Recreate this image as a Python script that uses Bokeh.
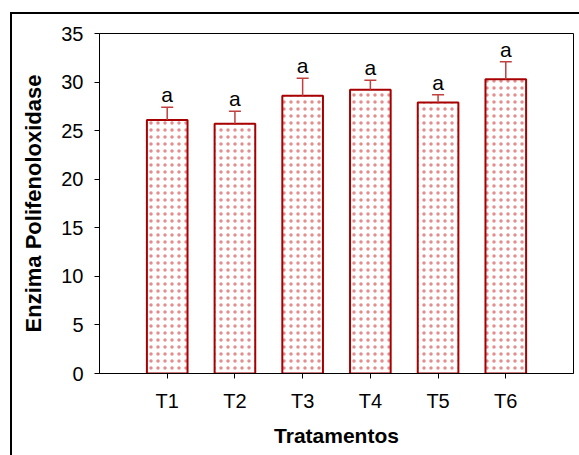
from bokeh.plotting import figure
from bokeh.models import ColumnDataSource, Whisker, TeeHead, LabelSet, FixedTicker
from bokeh.core.properties import value
from bokeh.embed import file_html
from bokeh.resources import INLINE

# Data
treatments = ["T1", "T2", "T3", "T4", "T5", "T6"]
means = [26.1, 25.7, 28.6, 29.2, 27.9, 30.3]
errors = [1.3, 1.3, 1.8, 1.0, 0.8, 1.8]
letters = ["a", "a", "a", "a", "a", "a"]
y_ticks = [0, 5, 10, 15, 20, 25, 30, 35]

xpos = list(range(1, len(treatments) + 1))
upper = [m + e for m, e in zip(means, errors)]
src = ColumnDataSource(dict(x=xpos, top=means, upper=upper, lower=means, letter=letters))

FONT = "Liberation Sans"
BAR_LINE = "#A80000"
HATCH = "#D86868"
ERR = "#C04040"

p = figure(width=579, height=455, x_range=(0, 7), y_range=(0, 35),
           output_backend="svg", toolbar_location=None,
           min_border_left=99, min_border_right=6, min_border_top=33, min_border_bottom=82)
p.background_fill_color = "white"
p.border_fill_color = None
p.outline_line_color = "black"
p.outline_line_width = 1
p.xgrid.grid_line_color = None
p.ygrid.grid_line_color = None
# outer document frame (left and top edges visible)
p.styles = {
    "background-color": "white",
    "background-image": "linear-gradient(#000,#000), linear-gradient(#000,#000)",
    "background-size": "2px 100%, 100% 2px",
    "background-position": "10px 12px, 10px 12px",
    "background-repeat": "no-repeat",
}

p.vbar(x="x", top="top", bottom=0, width=0.6, source=src,
       fill_color="white", line_color=BAR_LINE, line_width=2,
       hatch_pattern="dot", hatch_color=HATCH, hatch_scale=7, hatch_weight=1.3,
       hatch_alpha=0.75)

wh = Whisker(source=src, base="x", upper="upper", lower="lower",
             line_color=ERR, line_width=1.5,
             upper_head=TeeHead(size=12, line_color=ERR, line_width=1.5),
             lower_head=None, level="glyph")
p.add_layout(wh)

labels = LabelSet(x="x", y="upper", text="letter", source=src,
                  text_align="center", text_baseline="alphabetic", y_offset=5,
                  text_font=value(FONT), text_font_size=value("21px"), text_color="black")
p.add_layout(labels)

# axes
p.xaxis.ticker = FixedTicker(ticks=xpos)
p.xaxis.major_label_overrides = {i: t for i, t in zip(xpos, treatments)}
p.yaxis.ticker = FixedTicker(ticks=y_ticks)
for ax in (p.xaxis[0], p.yaxis[0]):
    ax.major_tick_out = 5
    ax.major_tick_in = 0
    ax.minor_tick_line_color = None
    ax.axis_line_color = "black"
    ax.major_tick_line_color = "black"
    ax.major_label_text_font = FONT
    ax.major_label_text_font_size = "20px"
    ax.major_label_text_color = "black"
    ax.axis_label_text_font = FONT
    ax.axis_label_text_font_style = "bold"
    ax.axis_label_text_color = "black"

p.xaxis.axis_label = "Tratamentos"
p.yaxis.axis_label = "Enzima Polifenoloxidase"
p.xaxis.axis_label_text_font_size = "21px"
p.yaxis.axis_label_text_font_size = "22px"
p.xaxis.major_label_standoff = 11
p.yaxis.major_label_standoff = 11
p.xaxis.axis_label_standoff = 9
p.yaxis.axis_label_standoff = 12

open("out.html", "w").write(file_html(p, INLINE))
